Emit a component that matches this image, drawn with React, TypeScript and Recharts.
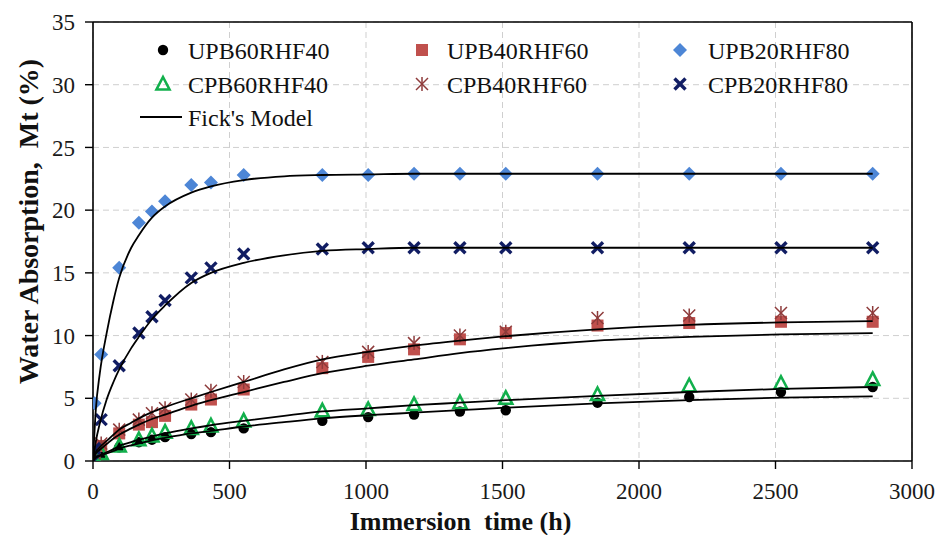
import React from 'react';
import {
  ComposedChart,
  XAxis,
  YAxis,
  CartesianGrid,
  Scatter,
  Line,
  ReferenceLine,
  Legend,
  Label,
} from 'recharts';

const FONT = '"Liberation Serif", "Times New Roman", Times, serif';

// Measurement times (h)
const TIMES = [0, 6, 30, 96, 168, 216, 264, 360, 432, 552, 840, 1008, 1176, 1344, 1512, 1848, 2184, 2520, 2856];

// Measured water uptake Mt (%)
const UPB60RHF40 = [0, 0.2, 0.5, 1.1, 1.5, 1.7, 1.9, 2.15, 2.3, 2.6, 3.2, 3.5, 3.7, 3.95, 4.05, 4.65, 5.1, 5.5, 5.9];
const UPB40RHF60 = [0, 0.5, 1.2, 2.2, 2.9, 3.1, 3.6, 4.5, 4.9, 5.7, 7.4, 8.3, 8.9, 9.7, 10.2, 10.8, 11.0, 11.1, 11.1];
const UPB20RHF80 = [0, 4.6, 8.5, 15.4, 19.0, 19.9, 20.7, 22.0, 22.2, 22.8, 22.8, 22.8, 22.9, 22.9, 22.9, 22.9, 22.9, 22.9, 22.9];
const CPB60RHF40 = [0, 0.2, 0.6, 1.2, 1.7, 2.0, 2.3, 2.6, 2.8, 3.2, 4.0, 4.1, 4.5, 4.65, 5.0, 5.3, 6.0, 6.2, 6.5];
const CPB40RHF60 = [0, 0.6, 1.4, 2.5, 3.3, 3.8, 4.2, 4.9, 5.6, 6.3, 7.9, 8.7, 9.4, 10.0, 10.3, 11.4, 11.6, 11.8, 11.8];
const CPB20RHF80 = [0, 1.0, 3.3, 7.6, 10.2, 11.5, 12.8, 14.6, 15.4, 16.5, 16.9, 17.0, 17.0, 17.0, 17.0, 17.0, 17.0, 17.0, 17.0];

// Fick's model curves
const FICK_TIMES = [0, 10, 25, 50, 75, 96, 140, 168, 216, 264, 360, 432, 552, 700, 840, 1008, 1176, 1344, 1512, 1848, 2184, 2520, 2856];
const FICK_UPB20 = [0, 4.0, 7.0, 10.2, 12.8, 14.6, 17.0, 18.0, 19.4, 20.3, 21.4, 21.9, 22.4, 22.7, 22.8, 22.85, 22.9, 22.9, 22.9, 22.9, 22.9, 22.9, 22.9];
const FICK_CPB20 = [0, 1.5, 3.0, 4.9, 6.3, 7.3, 9.0, 9.9, 11.3, 12.4, 14.2, 15.0, 15.8, 16.4, 16.75, 16.9, 17.0, 17.0, 17.0, 17.0, 17.0, 17.0, 17.0];
const FICK_40_UPPER = [0, 0.7, 1.1, 1.6, 2.1, 2.5, 3.05, 3.4, 3.9, 4.3, 5.0, 5.5, 6.3, 7.3, 8.1, 8.7, 9.2, 9.6, 9.95, 10.5, 10.85, 11.05, 11.15];
const FICK_40_LOWER = [0, 0.6, 0.9, 1.35, 1.8, 2.1, 2.6, 2.9, 3.35, 3.7, 4.4, 4.85, 5.5, 6.3, 7.0, 7.6, 8.1, 8.6, 9.0, 9.6, 9.9, 10.1, 10.2];
const FICK_60_UPPER = [0, 0.3, 0.45, 0.7, 0.95, 1.2, 1.5, 1.7, 1.95, 2.2, 2.6, 2.85, 3.2, 3.6, 3.95, 4.2, 4.45, 4.65, 4.85, 5.2, 5.5, 5.75, 5.9];
const FICK_60_LOWER = [0, 0.25, 0.4, 0.6, 0.8, 1.0, 1.25, 1.4, 1.65, 1.85, 2.2, 2.4, 2.75, 3.1, 3.4, 3.65, 3.85, 4.05, 4.25, 4.6, 4.85, 5.05, 5.15];

const X_TICKS = [0, 500, 1000, 1500, 2000, 2500, 3000];
const Y_TICKS = [0, 5, 10, 15, 20, 25, 30, 35];

const COLORS = {
  circle: '#000000',
  square: '#C0504D',
  diamond: '#4D86D6',
  triangle: '#12B04C',
  asterisk: '#8E3B3B',
  cross: '#111D63',
};

const toPoints = (ts: number[], vs: number[]) => ts.map((t, i) => ({ t, v: vs[i] }));

// Marker glyphs
const Circle = ({ cx, cy }: any) => <circle cx={cx} cy={cy} r={5.2} fill={COLORS.circle} />;
const Square = ({ cx, cy }: any) => (
  <rect x={cx - 6} y={cy - 6} width={12} height={12} fill={COLORS.square} />
);
const Diamond = ({ cx, cy }: any) => (
  <path d={`M${cx},${cy - 7} L${cx + 7},${cy} L${cx},${cy + 7} L${cx - 7},${cy} Z`} fill={COLORS.diamond} />
);
const Triangle = ({ cx, cy }: any) => (
  <path
    d={`M${cx},${cy - 7} L${cx + 6.5},${cy + 5.5} L${cx - 6.5},${cy + 5.5} Z`}
    fill="none"
    stroke={COLORS.triangle}
    strokeWidth={2.6}
    strokeLinejoin="miter"
  />
);
const Asterisk = ({ cx, cy }: any) => (
  <g stroke={COLORS.asterisk} strokeWidth={1.5}>
    <line x1={cx} y1={cy - 7} x2={cx} y2={cy + 7} />
    <line x1={cx - 6} y1={cy - 6} x2={cx + 6} y2={cy + 6} />
    <line x1={cx - 6} y1={cy + 6} x2={cx + 6} y2={cy - 6} />
  </g>
);
const Cross = ({ cx, cy }: any) => (
  <g stroke={COLORS.cross} strokeWidth={3.4} strokeLinecap="butt">
    <line x1={cx - 5.5} y1={cy - 5.5} x2={cx + 5.5} y2={cy + 5.5} />
    <line x1={cx - 5.5} y1={cy + 5.5} x2={cx + 5.5} y2={cy - 5.5} />
  </g>
);

const LEGEND_ITEMS = [
  { name: 'UPB60RHF40', Shape: Circle, mx: 163, tx: 188, y: 50 },
  { name: 'UPB40RHF60', Shape: Square, mx: 422, tx: 447, y: 50 },
  { name: 'UPB20RHF80', Shape: Diamond, mx: 680, tx: 708, y: 50 },
  { name: 'CPB60RHF40', Shape: Triangle, mx: 163, tx: 188, y: 84 },
  { name: 'CPB40RHF60', Shape: Asterisk, mx: 422, tx: 447, y: 84 },
  { name: 'CPB20RHF80', Shape: Cross, mx: 680, tx: 708, y: 84 },
];

const renderLegend = () => (
  <svg width={938} height={140} style={{ display: 'block' }}>
    {LEGEND_ITEMS.map(({ name, Shape, mx, tx, y }) => (
      <g key={name}>
        <Shape cx={mx} cy={y} />
        <text x={tx} y={y + 9} fontFamily={FONT} fontSize={24} fill="#111">
          {name}
        </text>
      </g>
    ))}
    <line x1={140} y1={117} x2={182} y2={117} stroke="#000" strokeWidth={1.8} />
    <text x={188} y={126} fontFamily={FONT} fontSize={24} fill="#111">
      Fick's Model
    </text>
  </svg>
);

const scatterSeries = [
  { name: 'UPB60RHF40', values: UPB60RHF40, Shape: Circle },
  { name: 'UPB40RHF60', values: UPB40RHF60, Shape: Square },
  { name: 'UPB20RHF80', values: UPB20RHF80, Shape: Diamond },
  { name: 'CPB60RHF40', values: CPB60RHF40, Shape: Triangle },
  { name: 'CPB40RHF60', values: CPB40RHF60, Shape: Asterisk },
  { name: 'CPB20RHF80', values: CPB20RHF80, Shape: Cross },
];

const fickCurves = [FICK_UPB20, FICK_CPB20, FICK_40_UPPER, FICK_40_LOWER, FICK_60_UPPER, FICK_60_LOWER];

export default function App() {
  return (
    <div style={{ position: 'absolute', left: 0, top: 0, background: '#fff' }}>
      <ComposedChart width={938} height={535} margin={{ top: 22, right: 26, bottom: 0, left: 0 }}>
        <CartesianGrid stroke="#CFCFCF" strokeDasharray="6 4" strokeWidth={1} />
        <XAxis
          type="number"
          dataKey="t"
          domain={[0, 3000]}
          ticks={X_TICKS}
          allowDataOverflow
          height={74}
          tickSize={8}
          tickMargin={14}
          axisLine={{ stroke: '#000', strokeWidth: 1.6 }}
          tickLine={{ stroke: '#000', strokeWidth: 1.4 }}
          tick={{ fill: '#1a1a1a', fontSize: 23, fontFamily: FONT }}
        >
          <Label
            content={({ viewBox }: any) => (
              <text
                x={viewBox.x + viewBox.width / 2 - 42}
                y={viewBox.y + 69}
                textAnchor="middle"
                fontFamily={FONT}
                fontSize={26}
                fontWeight="bold"
                fill="#111"
                style={{ whiteSpace: 'pre' }}
              >
                {'Immersion  time (h)'}
              </text>
            )}
          />
        </XAxis>
        <YAxis
          type="number"
          dataKey="v"
          domain={[0, 35]}
          ticks={Y_TICKS}
          allowDataOverflow
          width={93}
          tickSize={8}
          tickMargin={10}
          axisLine={{ stroke: '#000', strokeWidth: 1.6 }}
          tickLine={{ stroke: '#000', strokeWidth: 1.4 }}
          tick={{ fill: '#1a1a1a', fontSize: 23, fontFamily: FONT }}
        >
          <Label
            content={({ viewBox }: any) => {
              const cx = 28;
              const cy = viewBox.y + viewBox.height / 2 - 20;
              return (
                <text
                  x={cx}
                  y={cy}
                  transform={`rotate(-90 ${cx} ${cy})`}
                  textAnchor="middle"
                  dominantBaseline="central"
                  fontFamily={FONT}
                  fontSize={28}
                  fontWeight="bold"
                  fill="#111"
                  style={{ whiteSpace: 'pre' }}
                >
                  {'Water Absorption,  Mt (%)'}
                </text>
              );
            }}
          />
        </YAxis>
        <ReferenceLine y={35} stroke="#000" strokeWidth={1.6} />
        <ReferenceLine x={3000} stroke="#000" strokeWidth={1.6} />
        {scatterSeries.map(({ name, values, Shape }) => (
          <Scatter
            key={name}
            name={name}
            data={toPoints(TIMES, values)}
            dataKey="v"
            shape={(p: any) => <Shape cx={p.cx} cy={p.cy} />}
            isAnimationActive={false}
          />
        ))}
        {fickCurves.map((vals, i) => (
          <Line
            key={`fick-${i}`}
            data={toPoints(FICK_TIMES, vals)}
            dataKey="v"
            type="monotone"
            stroke="#000"
            strokeWidth={1.8}
            dot={false}
            activeDot={false}
            isAnimationActive={false}
            legendType="none"
            zIndex={700}
          />
        ))}
        <Legend
          layout="horizontal"
          verticalAlign="middle"
          align="center"
          content={renderLegend}
          wrapperStyle={{ left: 0, top: 0, width: 938, height: 140, pointerEvents: 'none' }}
        />
      </ComposedChart>
    </div>
  );
}
